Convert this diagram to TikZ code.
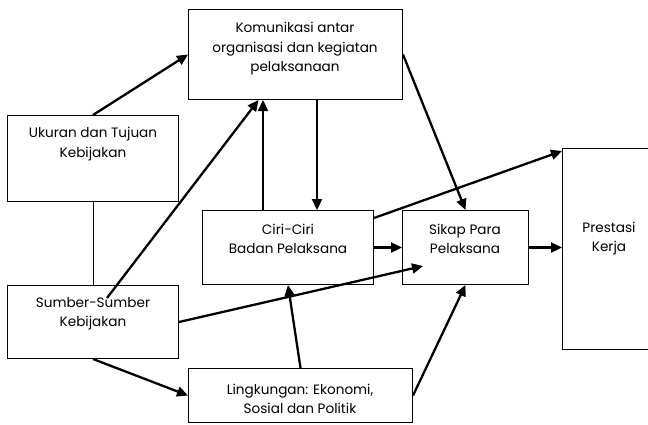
\documentclass[tikz,border=0pt]{standalone}
\usepackage{fontspec}
\setmainfont{Poppins}
\usetikzlibrary{positioning,calc,arrows.meta}
\tikzset{
  box/.style={draw,line width=1pt,anchor=north west,inner sep=0pt},
  txt/.style={align=center,inner sep=0pt,font=\fontsize{13.6}{19.5}\selectfont},
  arr/.style={line width=2.3pt,-{Triangle[length=11pt,width=10pt]}},
}
\begin{document}
\begin{tikzpicture}[x=1pt,y=-1pt]
\useasboundingbox (0,0) rectangle (648,424);
\node[box,minimum width=214pt,minimum height=90pt] (komunikasi) at (188,9) {};
\node[box,minimum width=171pt,minimum height=86pt] (ukuran) at (7,115) {};
\node[box,minimum width=171pt,minimum height=74pt] (ciri) at (202,210) {};
\node[box,minimum width=126pt,minimum height=74pt] (sikap) at (402,210) {};
\node[box,minimum width=100pt,minimum height=201pt] (prestasi) at (562,148) {};
\node[box,minimum width=171pt,minimum height=73pt] (sumber) at (7,285) {};
\node[box,minimum width=224pt,minimum height=54pt] (lingkungan) at (188,368) {};
\node[txt] (komunikasitxt) at (295,49) {Komunikasi antar\\organisasi dan kegiatan\\pelaksanaan};
\node[txt] (ukurantxt) at (93,144) {Ukuran dan Tujuan\\Kebijakan};
\node[txt] (ciritxt) at (288,239) {Ciri-Ciri\\Badan Pelaksana};
\node[txt] (sikaptxt) at (465,239) {Sikap Para\\Pelaksana};
\node[txt] (prestasitxt) at (609,238.5) {Prestasi\\Kerja};
\node[txt] (sumbertxt) at (93,313.5) {Sumber-Sumber\\Kebijakan};
\node[txt] (lingkungantxt) at (300,399) {Lingkungan: Ekonomi,\\Sosial dan Politik};
\coordinate (sumberin) at (107,298);
\draw[line width=1pt] (ukuran.south) -- (sumber.north);
\draw[arr] (ukuran.north) -- (komunikasi.west);
\draw[arr] (sumberin) -- ([xshift=-37pt]komunikasi.south);
\draw[arr] ([xshift=-25pt]ciri.north) -- ([xshift=-25pt]ciri.north |- komunikasi.south);
\draw[arr] ([xshift=29pt]ciri.north |- komunikasi.south) -- ([xshift=29pt]ciri.north);
\draw[arr] (komunikasi.east) -- (sikap.north);
\draw[arr] ([yshift=-8pt]ciri.north east) -- ([yshift=-3pt]prestasi.north west);
\draw[arr] (ciri.east) -- (sikap.west);
\draw[arr] (sumber.east) -- ($(sikap.south west)+(21,-19)$);
\draw[arr] (lingkungan.north) -- (ciri.south);
\draw[arr] (sikap.east) -- (sikap.east -| prestasi.west);
\draw[arr] (sumber.south) -- (lingkungan.west);
\draw[arr] (lingkungan.east) -- (sikap.south);
\end{tikzpicture}
\end{document}
